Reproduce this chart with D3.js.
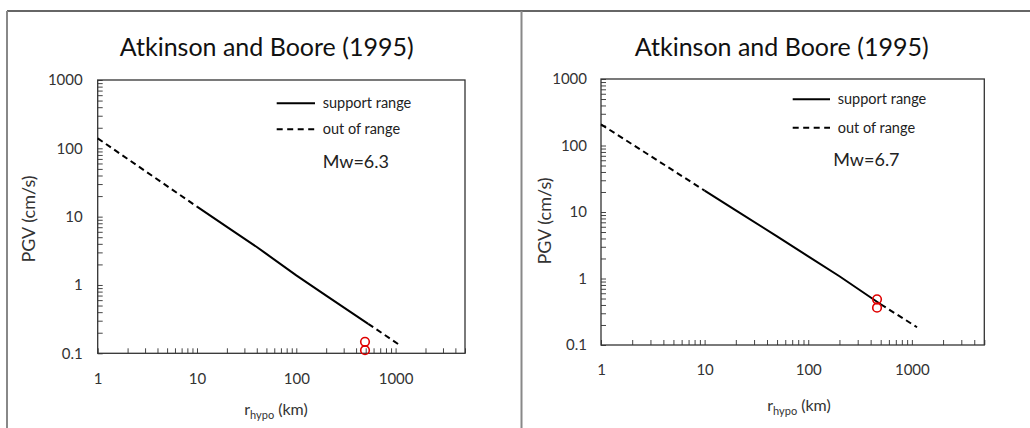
<!DOCTYPE html>
<html><head><meta charset="utf-8">
<script src="https://cdn.jsdelivr.net/npm/d3@7"></script>
<style>body{margin:0;background:#fff} svg{display:block}</style>
</head><body><svg id="c" width="1030" height="428"></svg>
<script>
// ---------- data ----------
const titleText = "Atkinson and Boore (1995)";
const xMajorTicks = [1, 10, 100, 1000];
const yMajorTicks = [0.1, 1, 10, 100, 1000];
const legendLabels = ["support range", "out of range"];

// Panel A : Mw 6.3
const magA = "Mw=6.3";
const rNearA = [1, 10];
const pgvNearA = [140, 14];
const rSupA = [10, 20, 40, 50, 100, 200, 530];
const pgvSupA = [14, 7.1, 3.6, 2.85, 1.38, 0.70, 0.27];
const rFarA = [530, 1125];
const pgvFarA = [0.27, 0.129];
const rObsA = [492, 492];
const pgvObsA = [0.147, 0.111];

// Panel B : Mw 6.7
const magB = "Mw=6.7";
const rNearB = [1, 10];
const pgvNearB = [208, 21];
const rSupB = [10, 20, 50, 100, 200, 500];
const pgvSupB = [21, 10.6, 4.3, 2.15, 1.08, 0.41];
const rFarB = [500, 1122];
const pgvFarB = [0.41, 0.185];
const rObsB = [461, 461];
const pgvObsB = [0.486, 0.364];

// ---------- drawing ----------
const svg = d3.select("#c");
const FONT = "Lato, 'Open Sans', sans-serif";

// outer frame lines
svg.append("line").attr("x1",7).attr("x2",1030).attr("y1",11).attr("y2",11)
  .attr("stroke","#333").attr("stroke-width",1.5);
svg.append("line").attr("x1",7).attr("x2",7).attr("y1",11).attr("y2",428)
  .attr("stroke","#888").attr("stroke-width",2);
svg.append("line").attr("x1",521.5).attr("x2",521.5).attr("y1",11).attr("y2",428)
  .attr("stroke","#888").attr("stroke-width",2);

function pairs(r, v){ return r.map((d,i)=>[d, v[i]]); }

function drawPanel(cfg){
  const g = svg.append("g");
  const x = d3.scaleLog().domain([1,5000]).range([cfg.left, cfg.right]);
  const y = d3.scaleLog().domain([0.1,1000]).range([cfg.bottom, cfg.top]);
  const isMajor = (arr, d) => arr.some(m => Math.abs(d/m - 1) < 1e-6);

  // x axis (ticks inward)
  const xa = g.append("g").attr("transform",`translate(0,${cfg.bottom})`)
    .call(d3.axisBottom(x).tickValues(x.ticks()).tickSize(-5).tickSizeOuter(0)
      .tickPadding(cfg.xPad)
      .tickFormat(d => isMajor(xMajorTicks, d) ? String(d) : ""));
  xa.select(".domain").remove();
  xa.selectAll("line").attr("stroke","#444");
  xa.selectAll("text").attr("font-family",FONT).attr("font-size",15).attr("fill","#333");

  const ya = g.append("g").attr("transform",`translate(${cfg.left},0)`)
    .call(d3.axisLeft(y).tickValues(y.ticks()).tickSize(-5).tickSizeOuter(0)
      .tickPadding(cfg.yPad)
      .tickFormat(d => isMajor(yMajorTicks, d) ? String(+d.toPrecision(3)) : ""));
  ya.select(".domain").remove();
  ya.selectAll("line").attr("stroke","#444");
  ya.selectAll("text").attr("font-family",FONT).attr("font-size",15).attr("fill","#333");

  // plot frame
  g.append("rect").attr("x",cfg.left).attr("y",cfg.top)
    .attr("width",cfg.right-cfg.left).attr("height",cfg.bottom-cfg.top)
    .attr("fill","none").attr("stroke","#333").attr("stroke-width",1.3);

  const line = d3.line().x(d=>x(d[0])).y(d=>y(d[1]));
  g.append("path").attr("d", line(pairs(cfg.rNear,cfg.pgvNear)))
    .attr("fill","none").attr("stroke","#000").attr("stroke-width",2).attr("stroke-dasharray","6,4");
  g.append("path").attr("d", line(pairs(cfg.rSup,cfg.pgvSup)))
    .attr("fill","none").attr("stroke","#000").attr("stroke-width",2);
  g.append("path").attr("d", line(pairs(cfg.rFar,cfg.pgvFar)))
    .attr("fill","none").attr("stroke","#000").attr("stroke-width",2).attr("stroke-dasharray","6,4");

  g.selectAll("circle.obs").data(pairs(cfg.rObs,cfg.pgvObs)).join("circle")
    .attr("class","obs").attr("cx",d=>x(d[0])).attr("cy",d=>y(d[1])).attr("r",4.3)
    .attr("fill","none").attr("stroke","#e00000").attr("stroke-width",1.6);

  // title
  g.append("text").attr("x",cfg.titleX).attr("y",56).attr("text-anchor","middle")
    .attr("font-family",FONT).attr("font-size",25).attr("fill","#111").text(titleText);

  // legend
  const lg = g.append("g");
  lg.append("line").attr("x1",cfg.legX1).attr("x2",cfg.legX2).attr("y1",cfg.legY1).attr("y2",cfg.legY1)
    .attr("stroke","#000").attr("stroke-width",2);
  lg.append("line").attr("x1",cfg.legX1).attr("x2",cfg.legX2).attr("y1",cfg.legY2).attr("y2",cfg.legY2)
    .attr("stroke","#000").attr("stroke-width",2).attr("stroke-dasharray","6,4.5");
  lg.append("text").attr("x",cfg.legTX).attr("y",cfg.legY1).attr("dy","0.35em")
    .attr("font-family",FONT).attr("font-size",14.5).attr("fill","#222").text(legendLabels[0]);
  lg.append("text").attr("x",cfg.legTX).attr("y",cfg.legY2).attr("dy","0.35em")
    .attr("font-family",FONT).attr("font-size",14.5).attr("fill","#222").text(legendLabels[1]);
  lg.append("text").attr("x",cfg.magX).attr("y",cfg.magY).attr("dy","0.35em")
    .attr("font-family",FONT).attr("font-size",18).attr("fill","#222").text(cfg.mag);

  // axis titles
  g.append("text").attr("transform",`translate(${cfg.yTitleX},${cfg.yTitleY}) rotate(-90)`)
    .attr("text-anchor","middle").attr("dy","0.35em")
    .attr("font-family",FONT).attr("font-size",18).attr("fill","#333").text("PGV (cm/s)");
  const xt = g.append("text").attr("x",cfg.xTitleX).attr("y",cfg.xTitleY).attr("text-anchor","middle")
    .attr("font-family",FONT).attr("font-size",16).attr("fill","#333");
  xt.append("tspan").text("r");
  xt.append("tspan").attr("font-size",11).attr("dy",4).text("hypo");
  xt.append("tspan").attr("dy",-4).text(" (km)");
}

drawPanel({
  left:97.7, right:465, top:80, bottom:353.3, xPad:20, yPad:15,
  titleX:266.7, legX1:276.7, legX2:315, legY1:103.3, legY2:129.3, legTX:322.7,
  magX:322.7, magY:161.7, mag:magA,
  yTitleX:28.3, yTitleY:219, xTitleX:276, xTitleY:415,
  rNear:rNearA, pgvNear:pgvNearA, rSup:rSupA, pgvSup:pgvSupA,
  rFar:rFarA, pgvFar:pgvFarA, rObs:rObsA, pgvObs:pgvObsA
});
drawPanel({
  left:601, right:984.3, top:79, bottom:345, xPad:19, yPad:14,
  titleX:781.7, legX1:792.7, legX2:830, legY1:99.3, legY2:127.7, legTX:837.7,
  magX:833.3, magY:160, mag:magB,
  yTitleX:544.3, yTitleY:221, xTitleX:799, xTitleY:411,
  rNear:rNearB, pgvNear:pgvNearB, rSup:rSupB, pgvSup:pgvSupB,
  rFar:rFarB, pgvFar:pgvFarB, rObs:rObsB, pgvObs:pgvObsB
});
</script></body></html>
